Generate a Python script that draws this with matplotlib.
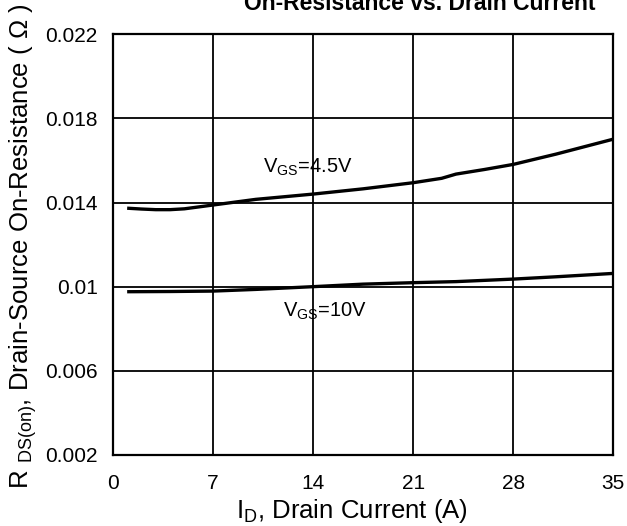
import numpy as np
import matplotlib.pyplot as plt

plt.rcParams['font.family'] = ['Liberation Sans', 'DejaVu Sans']
plt.rcParams['mathtext.fontset'] = 'custom'
plt.rcParams['mathtext.rm'] = 'Liberation Sans'

id_45 = [1, 2, 3, 4, 5, 7, 10, 14, 17.5, 21, 23, 24, 26, 28, 31, 35]
rds_45 = [0.01373, 0.01369, 0.01366, 0.01366, 0.01370, 0.01388, 0.01415, 0.01440,
          0.01465, 0.01494, 0.01515, 0.01535, 0.01557, 0.01581, 0.01630, 0.01701]
id_10 = [1, 4, 7, 10, 14, 17.5, 21, 24, 28, 31, 35]
rds_10 = [0.00976, 0.00977, 0.00979, 0.00987, 0.01000, 0.01012, 0.01019, 0.01024,
          0.01036, 0.01047, 0.01063]

xticks = [0, 7, 14, 21, 28, 35]
yticks = [0.002, 0.006, 0.010, 0.014, 0.018, 0.022]
ylabels = ['0.002', '0.006', '0.01', '0.014', '0.018', '0.022']

fig = plt.figure(figsize=(6.27, 5.26), dpi=100)
ax = fig.add_axes([0.180, 0.135, 0.798, 0.800])

ax.plot(id_45, rds_45, color='black', lw=2.4, solid_capstyle='butt')
ax.plot(id_10, rds_10, color='black', lw=2.4, solid_capstyle='butt')

ax.set_xlim(0, 35)
ax.set_ylim(0.002, 0.022)
ax.set_xticks(xticks)
ax.set_yticks(yticks)
ax.set_yticklabels(ylabels)
ax.tick_params(length=0, labelsize=15)
ax.tick_params(axis='x', pad=14)
ax.tick_params(axis='y', pad=11)
ax.grid(True, color='black', lw=1.3)
for s in ax.spines.values():
    s.set_linewidth(1.6)

ax.text(10.5, 0.01540, r'V$_{\mathregular{GS}}$=4.5V', fontsize=14.5, va='baseline')
ax.text(11.9, 0.00856, r'V$_{\mathregular{GS}}$=10V', fontsize=14.5, va='baseline')

ax.set_xlabel(r'I$_{\mathregular{D}}$, Drain Current (A)', fontsize=18.5, va='baseline')
ax.xaxis.set_label_coords(0.561, 0.0152, transform=fig.transFigure)
ax.set_ylabel(r'R $_{\mathregular{DS(on)}}$, Drain-Source On-Resistance ( Ω )',
              fontsize=18.5, va='baseline')
ax.yaxis.set_label_coords(0.0447, 0.532, transform=fig.transFigure)

fig.text(0.67, 0.981, 'On-Resistance vs. Drain Current', fontsize=16.5,
         fontweight='bold', ha='center', va='baseline')

fig.savefig('out.png', dpi=100)
